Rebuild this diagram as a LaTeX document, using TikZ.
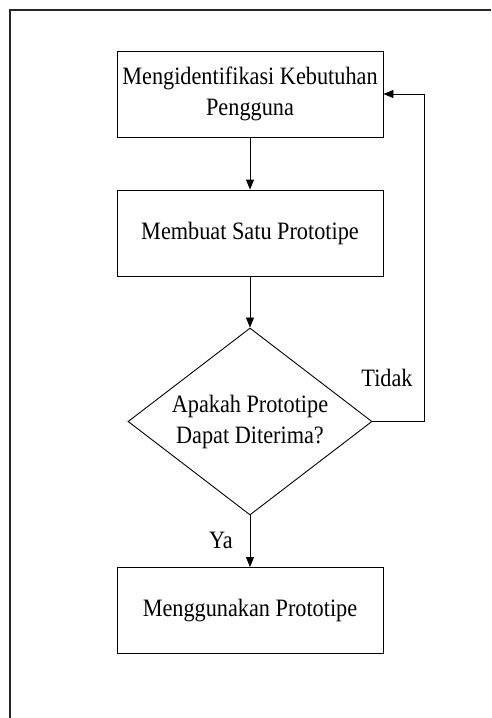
\documentclass[tikz,border=0pt]{standalone}
\usepackage{fontspec}
\setmainfont{Liberation Serif}[FakeStretch=0.89]
\usetikzlibrary{shapes.geometric,arrows.meta}
\begin{document}
\begin{tikzpicture}[x=1pt,y=-1pt,
  every node/.style={font=\fontsize{25}{31}\selectfont},
  procbox/.style={draw,line width=0.9pt,minimum width=266pt,minimum height=86pt,inner sep=0pt,align=center},
  decide/.style={draw,diamond,aspect=1.305,line width=0.9pt,minimum width=244pt,minimum height=187pt,inner sep=0pt,align=center},
  flow/.style={line width=0.9pt,-{Triangle[length=10pt,width=8pt]}},
  lbl/.style={inner sep=0pt}]
  % page area and frame
  \useasboundingbox (0,0) rectangle (491,718);
  \fill[white] (0,0) rectangle (491,718);
  \draw[line width=1.8pt,black!85] (10,718) -- (10,10) -- (491,10);

  % flowchart nodes
  \node[procbox] (need) at (250,94) {Mengidentifikasi Kebutuhan\\Pengguna};
  \node[procbox] (proto) at (250,233) {Membuat Satu Prototipe};
  \node[decide] (ok) at (250,421.5) {Apakah Prototipe\\Dapat Diterima?};
  \node[procbox] (use) at (250,610.5) {Menggunakan Prototipe};

  % connectors
  \draw[flow] (need) -- (proto);
  \draw[flow] (proto) -- (ok);
  \draw[flow] (ok) -- (use);
  \coordinate (loop) at (424,421.5);
  \draw[flow] (ok.east) -- (loop) |- (need.east);

  % branch labels
  \node[lbl] (no) at (387,378) {Tidak};
  \node[lbl] (yes) at (221,540) {Ya};
\end{tikzpicture}
\end{document}
